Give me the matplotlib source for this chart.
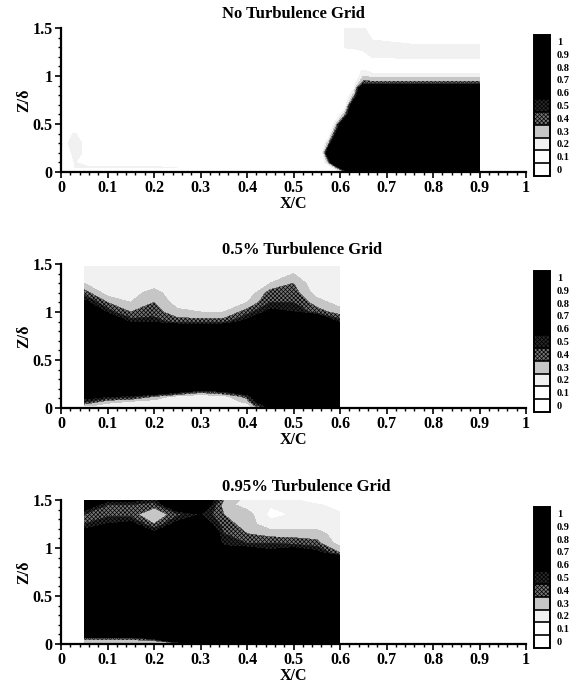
import numpy as np
import matplotlib
matplotlib.use("Agg")
import matplotlib.pyplot as plt

plt.rcParams['font.family'] = ['Liberation Serif', 'DejaVu Serif']
plt.rcParams['font.weight'] = 'bold'
plt.rcParams['hatch.linewidth'] = 0.5

titles = ["No Turbulence Grid", "0.5% Turbulence Grid", "0.95% Turbulence Grid"]
ticks_x = [0, 0.1, 0.2, 0.3, 0.4, 0.5, 0.6, 0.7, 0.8, 0.9, 1]
ticks_z = [0, 0.5, 1, 1.5]
bar_ticks = [0, 0.1, 0.2, 0.3, 0.4, 0.5, 0.6, 0.7, 0.8, 0.9, 1]
levels = [-0.05, 0.05, 0.15, 0.25, 0.35, 0.45, 0.55, 0.65, 0.75, 0.85, 0.95, 1.05]
shades = ['#ffffff', '#ffffff', '#f1f1f1', '#c6c6c6', '#777777', '#2a2a2a',
          '#000000', '#000000', '#000000', '#000000', '#000000']
hatches = [None, None, None, None, 'x' * 8, 'x' * 8, None, None, None, None, None]

# panel 1, no grid
x1 = [0, 0.03, 0.06, 0.2, 0.5, 0.56, 0.575, 0.59, 0.61, 0.63, 0.65, 0.67, 0.75, 0.9]
z1 = [0, 0.05, 0.1, 0.2, 0.3, 0.4, 0.5, 0.6, 0.7, 0.8, 0.88, 0.92, 1.0, 1.05, 1.1, 1.2, 1.3, 1.5]
g1 = [[0, 0, 0, 0, 0, 0, 0, 0, 0.3, 1, 1, 1, 1, 1],
      [0, 0.16, 0.16, 0.16, 0.1, 0, 0, 0.3, 1, 1, 1, 1, 1, 1],
      [0, 0.16, 0, 0, 0, 0, 0.3, 1, 1, 1, 1, 1, 1, 1],
      [0, 0.2, 0.1, 0, 0, 0, 0.8, 1, 1, 1, 1, 1, 1, 1],
      [0.1, 0.2, 0.1, 0, 0, 0, 0.3, 1, 1, 1, 1, 1, 1, 1],
      [0.1, 0.16, 0, 0, 0, 0, 0, 0.5, 1, 1, 1, 1, 1, 1],
      [0, 0, 0, 0, 0, 0, 0, 0.2, 0.9, 1, 1, 1, 1, 1],
      [0, 0, 0, 0, 0, 0, 0, 0, 0.3, 1, 1, 1, 1, 1],
      [0, 0, 0, 0, 0, 0, 0, 0, 0, 0.8, 1, 1, 1, 1],
      [0, 0, 0, 0, 0, 0, 0, 0, 0, 0.3, 1, 1, 1, 1],
      [0, 0, 0, 0, 0, 0, 0, 0, 0, 0.1, 0.9, 1, 1, 1],
      [0, 0, 0, 0, 0, 0, 0, 0, 0, 0.1, 0.42, 0.42, 0.42, 0.42],
      [0, 0, 0, 0, 0, 0, 0, 0, 0, 0, 0.25, 0.2, 0.2, 0.2],
      [0, 0, 0, 0, 0, 0, 0, 0, 0, 0, 0.2, 0.1, 0.1, 0.1],
      [0, 0, 0, 0, 0, 0, 0, 0, 0, 0, 0, 0, 0, 0],
      [0, 0, 0, 0, 0, 0, 0, 0, 0, 0, 0.1, 0.16, 0.18, 0.18],
      [0, 0, 0, 0, 0, 0, 0, 0, 0.16, 0.18, 0.18, 0.18, 0.16, 0.18],
      [0, 0, 0, 0, 0, 0, 0, 0, 0.16, 0.16, 0.16, 0.1, 0.1, 0]]

# panels 2 and 3 share the x stations
x23 = [0.05, 0.1, 0.15, 0.2, 0.25, 0.3, 0.35, 0.4, 0.45, 0.5, 0.55, 0.6]

z2 = [0, 0.03, 0.07, 0.12, 0.17, 0.22, 0.5, 0.8, 0.9, 1.0, 1.1, 1.2, 1.3, 1.4, 1.47, 1.5]
g2 = [[0.1, 0.1, 0.1, 0.16, 0.16, 0.16, 0.16, 0.16, 0.5, 0.8, 1, 1],
      [0.3, 0.2, 0.16, 0.16, 0.16, 0.16, 0.16, 0.2, 0.7, 1, 1, 1],
      [0.5, 0.3, 0.25, 0.2, 0.16, 0.16, 0.16, 0.3, 1, 1, 1, 1],
      [0.6, 0.55, 0.5, 0.35, 0.2, 0.16, 0.2, 0.4, 1, 1, 1, 1],
      [1, 1, 0.8, 0.8, 0.6, 0.4, 0.5, 0.8, 1, 1, 1, 1],
      [1, 1, 1, 1, 1, 1, 1, 1, 1, 1, 1, 1],
      [1, 1, 1, 1, 1, 1, 1, 1, 1, 1, 1, 1],
      [1, 1, 1, 1, 1, 1, 1, 1, 1, 1, 1, 1],
      [1, 1, 0.5, 0.5, 0.4, 0.4, 0.4, 0.6, 1, 1, 1, 0.5],
      [1, 0.5, 0.35, 0.4, 0.28, 0.25, 0.25, 0.4, 0.6, 0.55, 0.4, 0.3],
      [0.6, 0.35, 0.25, 0.35, 0.2, 0.18, 0.18, 0.25, 0.45, 0.45, 0.3, 0.2],
      [0.4, 0.2, 0.2, 0.3, 0.16, 0.16, 0.16, 0.16, 0.4, 0.4, 0.2, 0.16],
      [0.25, 0.16, 0.16, 0.18, 0.16, 0.16, 0.16, 0.16, 0.25, 0.35, 0.16, 0.16],
      [0.2, 0.16, 0.16, 0.16, 0.16, 0.16, 0.16, 0.16, 0.2, 0.25, 0.16, 0.16],
      [0.16, 0.16, 0.16, 0.16, 0.16, 0.16, 0.16, 0.16, 0.2, 0.2, 0.16, 0.16],
      [0, 0, 0, 0, 0, 0, 0, 0, 0, 0, 0, 0]]

z3 = [0, 0.03, 0.06, 0.1, 0.5, 0.85, 0.95, 1.05, 1.15, 1.25, 1.35, 1.45, 1.5]
g3 = [[0.16, 0.16, 0.16, 0.16, 0.2, 0.3, 0.5, 1, 1, 1, 1, 1],
      [0.3, 0.3, 0.3, 0.3, 0.7, 1, 1, 1, 1, 1, 1, 1],
      [0.4, 0.4, 0.4, 0.6, 1, 1, 1, 1, 1, 1, 1, 1],
      [1, 1, 1, 1, 1, 1, 1, 1, 1, 1, 1, 1],
      [1, 1, 1, 1, 1, 1, 1, 1, 1, 1, 1, 1],
      [1, 1, 1, 1, 1, 1, 1, 1, 1, 1, 1, 1],
      [1, 1, 1, 1, 1, 1, 0.7, 0.7, 0.6, 0.7, 0.6, 0.35],
      [0.8, 1, 1, 0.7, 1, 1, 0.5, 0.45, 0.45, 0.42, 0.38, 0.2],
      [0.65, 0.7, 0.7, 0.6, 0.9, 1, 0.45, 0.35, 0.3, 0.3, 0.3, 0.18],
      [0.45, 0.55, 0.6, 0.35, 0.6, 0.7, 0.4, 0.3, 0.18, 0.18, 0.18, 0.16],
      [0.45, 0.42, 0.4, 0.25, 0.42, 0.55, 0.35, 0.3, 0.12, 0.16, 0.18, 0.16],
      [0.7, 0.45, 0.45, 0.4, 0.8, 0.75, 0.3, 0.2, 0.16, 0.18, 0.16, 0.12],
      [0.9, 0.6, 0.6, 0.5, 0.9, 0.8, 0.35, 0.2, 0.16, 0.16, 0.1, 0.1]]

W, H = 575, 686
fig = plt.figure(figsize=(W / 100, H / 100), dpi=100)

tops = [28, 264, 500]
panels = [(x1, z1, g1), (x23, z2, g2), (x23, z3, g3)]

for i in range(3):
    top = tops[i]
    x, z, g = panels[i]
    ax = fig.add_axes([61 / W, 1 - (top + 144) / H, 465 / W, 144 / H])
    cf = ax.contourf(x, z, np.array(g), levels=levels, colors=shades, hatches=hatches)
    ax.set_xlim(0, 1)
    ax.set_ylim(0, 1.5)
    ax.spines['top'].set_visible(False)
    ax.spines['right'].set_visible(False)
    ax.spines['left'].set_linewidth(1.6)
    ax.spines['bottom'].set_linewidth(1.6)
    ax.set_xticks(ticks_x)
    ax.set_xticklabels([str(t) for t in ticks_x])
    ax.set_yticks(ticks_z)
    ax.set_yticklabels([str(t) for t in ticks_z])
    ax.set_xticks(np.arange(0, 1.01, 0.02), minor=True)
    ax.set_yticks(np.arange(0, 1.51, 0.1), minor=True)
    ax.tick_params(axis='both', which='major', length=4, width=1.2, labelsize=11.5, pad=2)
    ax.tick_params(axis='both', which='minor', length=2, width=1)
    ax.set_xlabel("X/C", fontsize=11.5, fontweight='bold', labelpad=0)
    ax.set_ylabel("Z/δ", fontsize=11.5, fontweight='bold', labelpad=0)
    ax.text((222 - 61) / 465, 1 + 13.5 / 144, titles[i], transform=ax.transAxes,
            fontsize=12, fontweight='bold', ha='left', va='center')

    cax = fig.add_axes([534 / W, 1 - (top + 148) / H, 16 / W, 141 / H])
    cb = fig.colorbar(cf, cax=cax, ticks=bar_ticks, drawedges=True)
    cb.ax.set_yticklabels([str(t) for t in bar_ticks])
    cb.ax.tick_params(length=0, labelsize=7.5, pad=5)
    cb.dividers.set_linewidth(1.2)
    cb.outline.set_linewidth(1.4)

fig.savefig("out.png", dpi=100)
